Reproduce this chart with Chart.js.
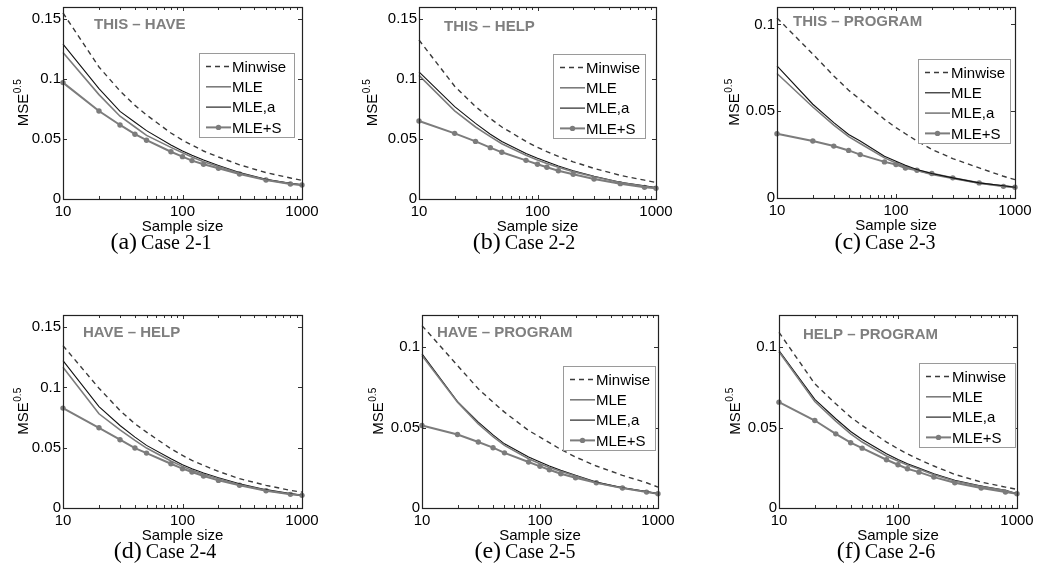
<!DOCTYPE html>
<html>
<head>
<meta charset="utf-8">
<script src="https://cdn.jsdelivr.net/npm/chart.js@4.4.0/dist/chart.umd.min.js"></script>
<style>
    body { margin: 0; background: #fff; width: 1040px; height: 581px; position: relative; overflow: hidden; }
    canvas { position: absolute; }
    .cap { position: absolute; font-family: "Liberation Serif", "Times New Roman", serif; color: #000;
           white-space: nowrap; transform: translateX(-50%); line-height: 1; }
    .cap .lt { font-size: 24px; }
    .cap .nm { font-size: 20px; }
</style>
</head>
<body>
<script>
// Sample sizes on the log x axis
const sampleSizes = [10, 20, 30, 40, 50, 80, 100, 120, 150, 200, 300, 500, 800, 1000];
const xTicks = [10, 100, 1000];
const xMinorTicks = [20, 30, 40, 50, 60, 70, 80, 90, 200, 300, 400, 500, 600, 700, 800, 900];
const yTicksAll = [0, 0.05, 0.1, 0.15];

const panelTitles = ['THIS – HAVE', 'THIS – HELP', 'THIS – PROGRAM', 'HAVE – HELP', 'HAVE – PROGRAM', 'HELP – PROGRAM'];
const caseLetters = ['(a)', '(b)', '(c)', '(d)', '(e)', '(f)'];
const caseNames = ['Case 2-1', 'Case 2-2', 'Case 2-3', 'Case 2-4', 'Case 2-5', 'Case 2-6'];
const yMaxes = [0.16, 0.16, 0.11, 0.16, 0.12, 0.12];
const seriesNames = ['Minwise', 'MLE', 'MLE,a', 'MLE+S'];

// Case 2-1
const minwise1 = [0.155, 0.110, 0.090, 0.078, 0.070, 0.055, 0.049, 0.045, 0.040, 0.035, 0.0285, 0.022, 0.0175, 0.0155];
const mle1     = [0.122, 0.087, 0.069, 0.060, 0.053, 0.043, 0.0385, 0.035, 0.031, 0.027, 0.0215, 0.016, 0.0128, 0.0116];
const mleA1    = [0.129, 0.092, 0.073, 0.064, 0.057, 0.045, 0.040, 0.0365, 0.0325, 0.028, 0.022, 0.0165, 0.013, 0.0118];
const mleS1    = [0.097, 0.0733, 0.0617, 0.054, 0.049, 0.0394, 0.0353, 0.032, 0.0289, 0.0256, 0.0208, 0.0158, 0.0125, 0.0117];
// Case 2-2
const minwise2 = [0.1325, 0.094, 0.077, 0.067, 0.060, 0.048, 0.043, 0.0395, 0.0355, 0.031, 0.0255, 0.0197, 0.0157, 0.0138];
const mle2     = [0.103, 0.0735, 0.060, 0.052, 0.046, 0.0365, 0.0325, 0.0295, 0.0265, 0.0228, 0.0185, 0.0137, 0.0105, 0.0092];
const mleA2    = [0.106, 0.077, 0.063, 0.054, 0.048, 0.038, 0.034, 0.031, 0.0275, 0.0235, 0.019, 0.014, 0.011, 0.0095];
const mleS2    = [0.065, 0.0547, 0.048, 0.0428, 0.0389, 0.0322, 0.0289, 0.0264, 0.0236, 0.0206, 0.0167, 0.0128, 0.0097, 0.0089];
// Case 2-3
const minwise3 = [0.1037, 0.0829, 0.0703, 0.062, 0.0568, 0.0453, 0.0405, 0.037, 0.0328, 0.028, 0.0227, 0.0173, 0.0125, 0.0106];
const mle3     = [0.0761, 0.054, 0.0434, 0.0366, 0.0328, 0.0241, 0.0212, 0.0189, 0.0164, 0.0141, 0.0116, 0.0087, 0.0071, 0.0062];
const mleA3    = [0.0717, 0.0524, 0.042, 0.0353, 0.0314, 0.0231, 0.0202, 0.0181, 0.0158, 0.0135, 0.0112, 0.0085, 0.007, 0.0062];
const mleS3    = [0.037, 0.0328, 0.0299, 0.0274, 0.025, 0.0208, 0.0193, 0.0173, 0.016, 0.0141, 0.0116, 0.0087, 0.0067, 0.0062];
// Case 2-4
const minwise4 = [0.1346, 0.0993, 0.0808, 0.0698, 0.0629, 0.0491, 0.0436, 0.0394, 0.0353, 0.0303, 0.0243, 0.0188, 0.0146, 0.0132];
const mle4     = [0.1167, 0.0781, 0.0648, 0.056, 0.0497, 0.0389, 0.0345, 0.0312, 0.0279, 0.0243, 0.0193, 0.0146, 0.0116, 0.0105];
const mleA4    = [0.1222, 0.0841, 0.0684, 0.0588, 0.0519, 0.0408, 0.0359, 0.0326, 0.029, 0.0251, 0.0201, 0.0152, 0.0119, 0.0105];
const mleS4    = [0.0828, 0.0665, 0.0566, 0.0497, 0.0455, 0.0367, 0.0326, 0.0298, 0.0265, 0.0229, 0.0188, 0.0143, 0.0113, 0.0105];
// Case 2-5
const minwise5 = [0.1134, 0.0886, 0.0741, 0.0658, 0.0596, 0.0482, 0.0441, 0.0406, 0.0364, 0.0317, 0.0261, 0.0203, 0.0157, 0.013];
const mle5     = [0.0948, 0.0658, 0.0523, 0.0443, 0.0389, 0.0306, 0.0275, 0.0252, 0.0228, 0.0199, 0.0157, 0.0124, 0.0101, 0.0089];
const mleA5    = [0.0958, 0.0662, 0.0534, 0.0455, 0.0399, 0.0317, 0.0286, 0.0261, 0.0234, 0.0203, 0.0161, 0.0126, 0.0103, 0.0089];
const mleS5    = [0.0513, 0.0457, 0.041, 0.0375, 0.0343, 0.0286, 0.0259, 0.0238, 0.0213, 0.0188, 0.0157, 0.0124, 0.0099, 0.0089];
// Case 2-6
const minwise6 = [0.1092, 0.0772, 0.0648, 0.0565, 0.0513, 0.041, 0.0368, 0.0337, 0.0302, 0.0261, 0.0209, 0.0161, 0.013, 0.0116];
const mle6     = [0.0972, 0.0662, 0.054, 0.0461, 0.041, 0.0323, 0.0292, 0.0267, 0.0242, 0.0207, 0.0168, 0.0133, 0.0108, 0.0089];
const mleA6    = [0.0979, 0.0675, 0.0555, 0.0476, 0.0426, 0.0337, 0.0302, 0.0275, 0.0248, 0.0213, 0.0172, 0.0137, 0.011, 0.0089];
const mleS6    = [0.0658, 0.0544, 0.0461, 0.0406, 0.0372, 0.03, 0.0269, 0.0244, 0.0223, 0.0192, 0.0157, 0.0124, 0.0099, 0.0089];

const panelSeries = [
    [minwise1, mle1, mleA1, mleS1],
    [minwise2, mle2, mleA2, mleS2],
    [minwise3, mle3, mleA3, mleS3],
    [minwise4, mle4, mleA4, mleS4],
    [minwise5, mle5, mleA5, mleS5],
    [minwise6, mle6, mleA6, mleS6]
];

// Layout of each panel: canvas box, plot area, y-label x, title pos, legend box, caption centre
const layouts = [
    { box: [0, 0, 340, 290],     area: [63, 7, 302, 199],     ylab: 28,  title: [94, 25],   legend: [199, 53, 95],  cap: [161, 229], swap: false },
    { box: [340, 0, 350, 290],   area: [419, 7, 656, 199],    ylab: 377, title: [444, 27],  legend: [553, 54, 92],  cap: [524, 229], swap: false },
    { box: [690, 0, 350, 290],   area: [777, 7, 1015, 198],   ylab: 739, title: [793, 22],  legend: [918, 59, 92],  cap: [885, 229], swap: true },
    { box: [0, 290, 340, 291],   area: [63, 315, 302, 508],   ylab: 28,  title: [83, 333],  legend: null,           cap: [165, 538], swap: false },
    { box: [340, 290, 350, 291], area: [422, 315, 658, 508],  ylab: 383, title: [437, 333], legend: [563, 366, 92], cap: [525, 538], swap: false },
    { box: [690, 290, 350, 291], area: [779, 315, 1017, 508], ylab: 740, title: [803, 335], legend: [919, 363, 96], cap: [886, 538], swap: false }
];

const FONT = '"Liberation Sans", Arial, sans-serif';
const GRAY = '#7c7c7c';
const DARK = '#111111';

function seriesStyles(swap) {
    return [
        { borderColor: '#3a3a3a', borderWidth: 1.4, borderDash: [5, 4], pointRadius: 0 },
        { borderColor: swap ? DARK : GRAY, borderWidth: swap ? 1.1 : 1.6, pointRadius: 0 },
        { borderColor: swap ? GRAY : DARK, borderWidth: swap ? 1.6 : 1.1, pointRadius: 0 },
        { borderColor: GRAY, borderWidth: 2, pointRadius: 2.7, pointBackgroundColor: GRAY, pointBorderColor: GRAY, pointBorderWidth: 0 }
    ];
}

const decor = {
    id: 'decor',
    afterDraw(chart, args, o) {
        const { ctx, chartArea: a, scales: { x, y } } = chart;
        ctx.save();

        // inward MATLAB-style ticks
        ctx.strokeStyle = '#333';
        ctx.lineWidth = 1;
        ctx.beginPath();
        xTicks.concat(xMinorTicks).forEach(v => {
            const px = Math.round(x.getPixelForValue(v)) + 0.5;
            const len = xTicks.includes(v) ? 4 : 3;
            ctx.moveTo(px, a.bottom); ctx.lineTo(px, a.bottom - len);
            ctx.moveTo(px, a.top); ctx.lineTo(px, a.top + len);
        });
        y.ticks.forEach(t => {
            const py = Math.round(y.getPixelForValue(t.value)) + 0.5;
            ctx.moveTo(a.left, py); ctx.lineTo(a.left + 4, py);
            ctx.moveTo(a.right, py); ctx.lineTo(a.right - 4, py);
        });
        ctx.stroke();

        // axes box
        ctx.strokeStyle = '#222';
        ctx.lineWidth = 1.2;
        ctx.strokeRect(Math.round(a.left) + 0.5, Math.round(a.top) + 0.5,
            Math.round(a.right - a.left), Math.round(a.bottom - a.top));

        // y axis label with superscript
        ctx.save();
        ctx.translate(o.ylab, (a.top + a.bottom) / 2);
        ctx.rotate(-Math.PI / 2);
        ctx.fillStyle = '#000';
        ctx.textBaseline = 'alphabetic';
        ctx.font = '15px ' + FONT;
        const w1 = ctx.measureText('MSE').width;
        ctx.font = '10px ' + FONT;
        const w2 = ctx.measureText('0.5').width;
        const x0 = -(w1 + w2) / 2;
        ctx.font = '15px ' + FONT;
        ctx.fillText('MSE', x0, 0);
        ctx.font = '10px ' + FONT;
        ctx.fillText('0.5', x0 + w1 + 0.5, -7);
        ctx.restore();

        // title inside the axes
        ctx.fillStyle = '#7f7f7f';
        ctx.font = 'bold 15px ' + FONT;
        ctx.textAlign = 'left';
        ctx.textBaseline = 'middle';
        ctx.fillText(o.title, o.titlePos[0] - o.box[0], o.titlePos[1] - o.box[1]);

        // legend
        if (o.legend) {
            const lx = o.legend[0] - o.box[0], ly = o.legend[1] - o.box[1], lw = o.legend[2], lh = 84;
            ctx.fillStyle = '#fff';
            ctx.fillRect(lx, ly, lw, lh);
            ctx.strokeStyle = '#9a9a9a';
            ctx.lineWidth = 1;
            ctx.strokeRect(lx + 0.5, ly + 0.5, lw, lh);
            chart.data.datasets.forEach((ds, i) => {
                const yy = ly + 13.5 + i * 20.3;
                ctx.strokeStyle = ds.borderColor;
                ctx.lineWidth = ds.borderWidth;
                ctx.setLineDash(ds.borderDash || []);
                ctx.beginPath();
                ctx.moveTo(lx + 7, yy);
                ctx.lineTo(lx + 32, yy);
                ctx.stroke();
                ctx.setLineDash([]);
                if (ds.pointRadius) {
                    ctx.fillStyle = ds.pointBackgroundColor;
                    ctx.beginPath();
                    ctx.arc(lx + 19.5, yy, ds.pointRadius, 0, Math.PI * 2);
                    ctx.fill();
                }
                ctx.fillStyle = '#000';
                ctx.font = '15px ' + FONT;
                ctx.textBaseline = 'middle';
                ctx.fillText(ds.label, lx + 33, yy + 1);
            });
        }
        ctx.restore();
    }
};

layouts.forEach((p, k) => {
    const [bx, by, bw, bh] = p.box;
    const canvas = document.createElement('canvas');
    canvas.width = bw;
    canvas.height = bh;
    canvas.style.left = bx + 'px';
    canvas.style.top = by + 'px';
    document.body.appendChild(canvas);

    const left = p.area[0] - bx;
    const top = p.area[1] - by;
    const right = bx + bw - p.area[2];
    const xAxisH = 40;
    const bottom = by + bh - p.area[3] - xAxisH;

    const styles = seriesStyles(p.swap);
    const datasets = panelSeries[k].map((vals, i) => Object.assign({
        label: seriesNames[i],
        data: sampleSizes.map((n, j) => ({ x: n, y: vals[j] })),
        tension: 0,
        fill: false,
        clip: false
    }, styles[i]));

    const tickFont = { family: FONT, size: 15 };
    const yMax = yMaxes[k];

    new Chart(canvas, {
        type: 'line',
        data: { datasets: datasets },
        options: {
            responsive: false,
            animation: false,
            layout: { padding: { left: 0, top: top, right: right, bottom: bottom } },
            plugins: {
                legend: { display: false },
                tooltip: { enabled: false },
                decor: {
                    box: p.box, ylab: p.ylab - bx, title: panelTitles[k],
                    titlePos: p.title, legend: p.legend
                }
            },
            scales: {
                x: {
                    type: 'logarithmic',
                    min: 10,
                    max: 1000,
                    grid: { display: false, drawTicks: false },
                    border: { display: false },
                    afterBuildTicks: s => { s.ticks = xTicks.map(v => ({ value: v, major: true })); },
                    afterFit: s => { s.height = xAxisH; },
                    ticks: {
                        font: tickFont, color: '#000', padding: 4, maxRotation: 0, autoSkip: false,
                        callback: v => String(v)
                    },
                    title: {
                        display: true, text: 'Sample size', font: tickFont, color: '#000',
                        padding: { top: 0, bottom: 3 }
                    }
                },
                y: {
                    min: 0,
                    max: yMax,
                    grid: { display: false, drawTicks: false },
                    border: { display: false },
                    afterBuildTicks: s => { s.ticks = yTicksAll.filter(v => v <= yMax).map(v => ({ value: v })); },
                    afterFit: s => { s.width = left; s.paddingTop = 0; s.paddingBottom = 0; },
                    ticks: { font: tickFont, color: '#000', padding: 2, callback: v => String(v) }
                }
            }
        },
        plugins: [decor]
    });

    const cap = document.createElement('div');
    cap.className = 'cap';
    cap.style.left = p.cap[0] + 'px';
    cap.style.top = p.cap[1] + 'px';
    cap.innerHTML = '<span class="lt">' + caseLetters[k] + '</span> <span class="nm">' + caseNames[k] + '</span>';
    document.body.appendChild(cap);
});
</script>
</body>
</html>
